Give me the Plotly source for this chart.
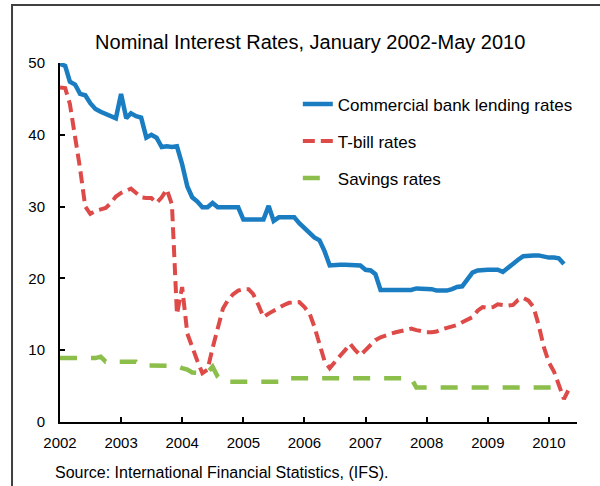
import pandas as pd
import plotly.graph_objects as go

# Monthly observations starting January 2002
lending = [49.9, 49.6, 47.4, 47.0, 45.7, 45.5, 44.4, 43.6, 43.2, 42.9, 42.6, 42.3,
           45.7, 42.3, 43.0, 42.6, 42.4, 39.6, 40.0, 39.6, 38.3, 38.4, 38.3, 38.4,
           35.9, 32.8, 31.3, 30.7, 29.9, 29.9, 30.5, 29.9, 29.9, 29.9, 29.9, 29.9,
           28.2, 28.2, 28.2, 28.2, 28.2, 30.1, 28.0, 28.5, 28.5, 28.5, 28.5, 27.7,
           27.0, 26.3, 25.7, 25.3, 23.8, 21.8, 21.9, 21.9, 21.9, 21.9, 21.9, 21.8,
           21.2, 21.1, 20.6, 18.4, 18.4, 18.4, 18.4, 18.4, 18.4, 18.4, 18.6, 18.6,
           18.6, 18.5, 18.3, 18.3, 18.3, 18.5, 18.8, 18.9, 19.9, 20.8, 21.1, 21.2,
           21.2, 21.2, 21.2, 20.9, 21.5, 22.2, 22.6, 23.1, 23.2, 23.2, 23.2, 23.0,
           22.9, 22.9, 22.8, 22.0]

tbill = [46.6, 46.5, 44.3, 40.0, 35.3, 30.0, 29.0, 29.4, 29.6, 29.8, 30.5, 31.4,
         31.9, 32.2, 32.5, 31.9, 31.3, 31.2, 31.2, 30.5, 31.3, 32.4, 30.3, 15.0,
         18.8, 12.3, 10.3, 8.5, 6.8, 7.3, 10.3, 13.0, 15.8, 17.0, 17.8, 18.3,
         18.5, 18.5, 17.8, 16.3, 14.6, 15.1, 15.5, 16.0, 16.3, 16.6, 16.7, 16.7,
         16.0, 15.1, 13.3, 11.0, 8.5, 7.5, 8.4, 9.2, 10.0, 10.9, 10.0, 9.3,
         10.0, 10.7, 11.4, 11.8, 12.1, 12.3, 12.5, 12.7, 12.9, 13.0, 12.8, 12.6,
         12.5, 12.5, 12.6, 12.9, 13.1, 13.3, 13.5, 13.9, 14.2, 14.6, 15.5, 16.0,
         15.9, 16.0, 16.4, 16.3, 16.2, 16.3, 17.0, 17.3, 16.9, 16.0, 13.5, 10.5,
         8.3, 7.0, 5.2, 3.2, 4.6]

savings = [8.9, 8.9, 8.9, 8.9, 8.9, 8.9, 8.9, 8.9, 9.1, 8.4, 8.4, 8.4,
           8.4, 8.4, 8.4, 8.4, 7.9, 7.9, 7.9, 7.9, 7.9, 7.9, 7.9, 7.8,
           7.5, 7.3, 6.9, 6.8, 6.8, 6.9, 7.7, 6.3, 5.6, 5.6, 5.6, 5.6,
           5.6, 5.6, 5.6, 5.6, 5.6, 5.6, 5.6, 5.6, 5.6, 6.1, 6.1, 6.1,
           6.1, 6.1, 6.1, 6.1, 6.1, 6.1, 6.1, 6.1, 6.1, 6.1, 6.1, 6.1,
           6.1, 6.1, 6.1, 6.1, 6.1, 6.1, 6.1, 6.1, 6.1, 6.1, 4.8, 4.8,
           4.8, 4.8, 4.8, 4.8, 4.8, 4.8, 4.8, 4.8, 4.8, 4.8, 4.8, 4.8,
           4.8, 4.8, 4.8, 4.8, 4.8, 4.8, 4.8, 4.8, 4.8, 4.8, 4.8, 4.8,
           4.8, 4.8, 4.8, 4.8]

years = ["2002", "2003", "2004", "2005", "2006", "2007", "2008", "2009", "2010"]

def months(n):
    return pd.date_range("2002-01-01", periods=n, freq="MS")

FONT = "Liberation Sans, Arial, sans-serif"

fig = go.Figure()
fig.add_trace(go.Scatter(x=months(len(lending)), y=lending, mode="lines",
                         name="Commercial bank lending rates", legendgroup="a",
                         line=dict(color="#1A7DC2", width=4.5)))
fig.add_trace(go.Scatter(x=months(len(tbill)), y=tbill, mode="lines",
                         name="T-bill rates", legendgroup="b",
                         line=dict(color="#DE4A48", width=4, dash="12px,6px")))
fig.add_trace(go.Scatter(x=months(len(savings)), y=savings, mode="lines",
                         name="Savings rates", legendgroup="c",
                         line=dict(color="#8BBE4A", width=4.5, dash="17px,14px")))

fig.update_layout(
    width=600, height=486,
    margin=dict(l=60, r=23, t=63, b=64),
    paper_bgcolor="white", plot_bgcolor="white",
    font=dict(family=FONT, size=15, color="black"),
    title=dict(text="Nominal Interest Rates, January 2002-May 2010",
               x=0.517, xanchor="center", y=0.913, yanchor="middle",
               font=dict(size=20, family=FONT, color="black")),
    showlegend=True,
    legend=dict(x=0.46, y=0.935, xanchor="left", yanchor="top",
                bgcolor="rgba(0,0,0,0)", font=dict(size=17, family=FONT),
                traceorder="grouped", tracegroupgap=12),
    xaxis=dict(type="date", range=["2002-01-01", "2010-06-18"],
               tickvals=[y + "-01-01" for y in years], ticktext=years,
               ticks="inside", ticklen=5, tickwidth=1.5, tickcolor="black",
               showline=True, linecolor="black", linewidth=2,
               showgrid=False, zeroline=False, ticklabelstandoff=6),
    yaxis=dict(range=[0, 50], dtick=10, ticks="inside", ticklen=5,
               tickwidth=1.5, tickcolor="black",
               showline=True, linecolor="black", linewidth=2,
               showgrid=False, zeroline=False, ticklabelstandoff=10),
)

fig.add_shape(type="rect", xref="paper", yref="paper",
              x0=-0.0928, x1=1.3, y0=-0.6, y1=1.1616,
              line=dict(color="#404040", width=2), fillcolor="rgba(0,0,0,0)",
              layer="below")

fig.add_annotation(text="Source: International Financial Statistics, (IFS).",
                   xref="paper", yref="paper", x=-0.013, y=-0.14,
                   xanchor="left", yanchor="middle", showarrow=False,
                   font=dict(size=16, family=FONT, color="black"))

fig.write_html("out.html", config={"displayModeBar": False},
               post_script="document.body.style.margin='0';document.body.style.padding='0';")
